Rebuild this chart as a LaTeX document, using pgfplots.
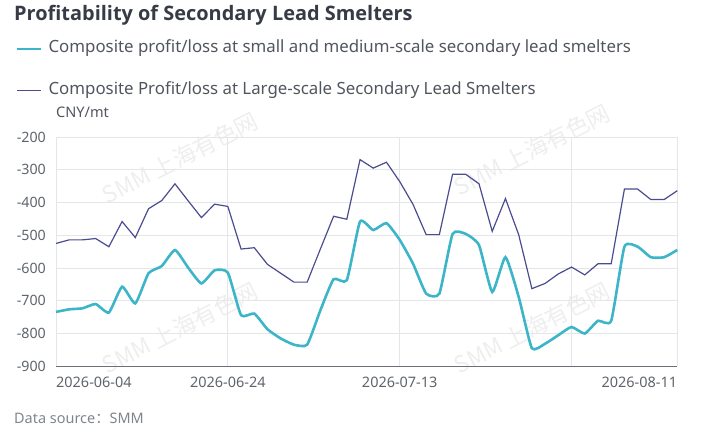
\documentclass[border=0pt]{standalone}
\usepackage{pgfplots}
\pgfplotsset{compat=1.18}
\usepackage{pgfplotstable}
\usepackage{fontspec}
\setmainfont{Noto Sans}
\newfontfamily\titlefont{Open Sans}
\newfontfamily\cjk{Noto Sans CJK SC}
\definecolor{teal1}{HTML}{3DB5C9}
\definecolor{navy1}{HTML}{4B4C90}
\definecolor{titlec}{HTML}{363B45}
\definecolor{legc}{HTML}{50555E}
\definecolor{tickc}{HTML}{5F646C}
\definecolor{gridc}{HTML}{E4E6EA}
\definecolor{axisc}{HTML}{6E7079}
\definecolor{srcc}{HTML}{80858C}
\definecolor{wmc}{HTML}{EEEEEE}

\pgfplotstableread{
i small large
0 -734 -525
1 -726 -514
2 -723 -514
3 -710 -510
4 -736 -535
5 -657 -458
6 -708 -507
7 -616 -419
8 -594 -394
9 -545 -343
10 -599 -395
11 -647 -446
12 -607 -405
13 -614 -412
14 -744 -542
15 -739 -538
16 -787 -589
17 -815 -616
18 -834 -643
19 -834 -643
20 -729 -542
21 -634 -442
22 -637 -451
23 -458 -269
24 -484 -295
25 -463 -277
26 -514 -336
27 -586 -405
28 -678 -498
29 -678 -498
30 -496 -314
31 -496 -314
32 -530 -343
33 -673 -488
34 -567 -388
35 -688 -498
36 -845 -663
37 -831 -647
38 -805 -618
39 -780 -597
40 -800 -621
41 -761 -587
42 -761 -587
43 -535 -359
44 -535 -359
45 -567 -391
46 -567 -391
47 -545 -364
}\data

\begin{document}
\begin{tikzpicture}
\useasboundingbox (0,0) rectangle (711bp,438bp);
% watermarks
\foreach \cx/\cy in {180/280, 180/110, 532/288, 532/110}{
  \node[rotate=27, text=wmc, font=\cjk\fontsize{23}{25}\selectfont] at (\cx bp,\cy bp) {SMM 上海有色网};
}
\begin{axis}[
  at={(56bp,71.7bp)}, anchor=south west,
  scale only axis, width=621.3bp, height=229.3bp,
  xmin=0, xmax=47, ymin=-900, ymax=-200,
  ytick={-900,-800,-700,-600,-500,-400,-300,-200},
  yticklabels={-900,-800,-700,-600,-500,-400,-300,-200},
  xtick={0,13,26,39,47},
  xticklabels={,2026-06-24,2026-07-13,,},
  major tick length=0pt,
  grid=major,
  major grid style={draw=gridc, line width=0.8bp},
  axis x line*=bottom, axis y line*=left,
  x axis line style={draw=axisc, line width=1bp},
  y axis line style={draw=none},
  yticklabel style={font=\fontsize{14.3}{16}\selectfont, text=tickc, inner sep=0pt, anchor=east, xshift=-10bp},
  xticklabel style={font=\fontsize{14.5}{16}\selectfont, text=tickc, inner sep=0pt, anchor=north, yshift=-11bp},
  clip=false,
  legend style={at={(axis description cs:-0.0644,1.428)}, anchor=north west,
    draw=none, fill=none, inner sep=0pt, outer sep=0pt,
    font=\fontsize{16.9}{19}\selectfont, text=legc, row sep=22bp,
    nodes={inner sep=2bp, text height=12bp, text depth=4bp},
    /tikz/every odd column/.append style={column sep=4bp}},
  legend cell align=left,
  legend image code/.code={\draw[#1] (0bp,0bp) -- (24bp,0bp);},
]
\addplot[teal1, line width=2.6bp, smooth, tension=0.3] table[x=i, y=small] {\data};
\addlegendentry{Composite profit/loss at small and medium-scale secondary lead smelters}
\addplot[navy1, line width=1.2bp] table[x=i, y=large] {\data};
\addlegendentry{Composite Profit/loss at Large-scale Secondary Lead Smelters}
\node[anchor=north west, inner sep=0pt, font=\fontsize{14.5}{16}\selectfont, text=tickc, yshift=-11bp] at (axis cs:0,-900) {2026-06-04};
\node[anchor=north east, inner sep=0pt, font=\fontsize{14.5}{16}\selectfont, text=tickc, yshift=-11bp] at (axis cs:47,-900) {2026-08-11};
\end{axis}
\node[anchor=west, inner sep=0pt, font=\titlefont\bfseries\fontsize{20}{24}\selectfont, text=titlec] at (14bp,423bp) {Profitability of Secondary Lead Smelters};
\node[anchor=west, inner sep=0pt, font=\fontsize{14.6}{16}\selectfont, text=legc] at (56bp,326bp) {CNY/mt};
\node[anchor=west, inner sep=0pt, font=\fontsize{14.5}{16}\selectfont, text=srcc] at (14bp,20bp) {Data source{\cjk ：}SMM};
\end{tikzpicture}
\end{document}
